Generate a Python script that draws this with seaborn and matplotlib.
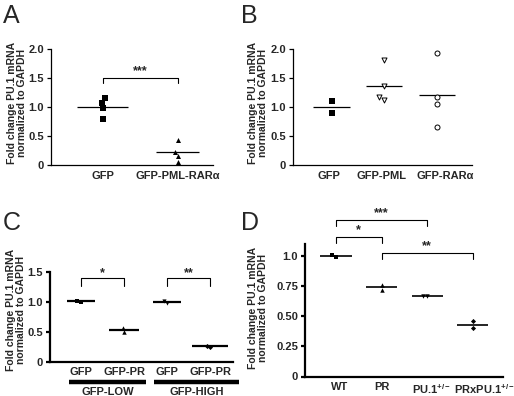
import numpy as np
import pandas as pd
import matplotlib
matplotlib.use("Agg")
import matplotlib.pyplot as plt
import matplotlib.transforms as mtransforms
import seaborn as sns

sns.set_style("white")
plt.rcParams['font.family'] = ['Liberation Sans', 'DejaVu Sans']
plt.rcParams['mathtext.fontset'] = 'custom'
plt.rcParams['mathtext.rm'] = 'Liberation Sans:bold'
plt.rcParams['mathtext.bf'] = 'Liberation Sans:bold'
plt.rcParams['mathtext.it'] = 'Liberation Sans:bold'

# ---------------- data ----------------
a_cats = ["GFP", "GFP-PML-RARα"]
a_gfp = [1.15, 1.07, 0.98, 0.79]
a_pr = [0.43, 0.23, 0.16, 0.06]

b_cats = ["GFP", "GFP-PML", "GFP-RARα"]
b_gfp = [1.10, 0.90]
b_pml = [1.81, 1.36, 1.18, 1.13]
b_rar = [1.93, 1.18, 1.05, 0.66]

c_cats = ["GFP ", "GFP-PR ", "GFP", "GFP-PR"]
c_ticklabels = ["GFP", "GFP-PR", "GFP", "GFP-PR"]
c_groups = ["GFP-LOW", "GFP-HIGH"]
c_low_gfp = [0.99, 1.02]
c_low_pr = [0.57, 0.50]
c_high_gfp = [0.98, 1.02]
c_high_pr = [0.24, 0.27]

d_cats = ["WT", "PR", "PU.1+/-", "PRxPU.1+/-"]
d_ticklabels = ["WT", "PR", r"PU.1$^{+/-}$", r"PRxPU.1$^{+/-}$"]
d_wt = [0.995, 1.01]
d_pr = [0.72, 0.765]
d_pu = [0.67, 0.67]
d_prpu = [0.40, 0.46]

ylab = "Fold change PU.1 mRNA\nnormalized to GAPDH"

fig = plt.figure(figsize=(5.14, 3.96), dpi=100)

axA = fig.add_axes([51 / 514, 1 - 165 / 396, 162 / 514, 115.7 / 396])
axB = fig.add_axes([293 / 514, 1 - 165 / 396, 179 / 514, 115.7 / 396])
axC = fig.add_axes([50 / 514, 1 - 361.7 / 396, 183 / 514, 90 / 396])
axD = fig.add_axes([305 / 514, 1 - 376.5 / 396, 198 / 514, 132.2 / 396])


def swarm(ax, cats, cat, vals, marker, size, open_=False):
    df = pd.DataFrame({"x": [cat] * len(vals), "y": vals})
    kw = dict(data=df, x="x", y="y", order=cats, ax=ax, marker=marker, size=size)
    if open_:
        kw.update(color="white", edgecolor="black", linewidth=0.7)
    else:
        kw.update(color="black", linewidth=0)
    sns.swarmplot(**kw)


def meanline(ax, pos, vals, half, lw):
    m = np.mean(vals)
    ax.hlines(m, pos - half, pos + half, color="black", lw=lw, zorder=1)


def bracket(ax, x0, x1, ytop, yleg, text, ystar, lw=0.8):
    ax.plot([x0, x0, x1, x1], [yleg, ytop, ytop, yleg], color="black", lw=lw, clip_on=False)
    ax.text((x0 + x1) / 2, ystar, text, ha="center", va="center", fontsize=9,
            fontweight="bold", clip_on=False)


def style(ax, lw):
    sns.despine(ax=ax)
    for s in ["left", "bottom"]:
        ax.spines[s].set_linewidth(lw)
        ax.spines[s].set_color("black")
    ax.set_xlabel("")
    ax.set_ylabel("")
    ax.tick_params(axis="x", length=0, pad=4)
    ax.tick_params(axis="y", length=3, width=lw, color="black", pad=2, left=True)


def shift_label(ax, idx, dx_px):
    lab = ax.get_xticklabels()[idx]
    lab.set_transform(lab.get_transform() +
                      mtransforms.ScaledTranslation(dx_px / 100, 0, fig.dpi_scale_trans))


# ---------------- A ----------------
swarm(axA, a_cats, a_cats[0], a_gfp, "s", 3.8)
swarm(axA, a_cats, a_cats[1], a_pr, "^", 3.6)
meanline(axA, 0, a_gfp, 0.34, 0.9)
meanline(axA, 1, a_pr, 0.29, 0.9)
axA.set_xlim(-0.69, 1.47)
axA.set_ylim(0, 2.0)
axA.set_yticks([0, 0.5, 1.0, 1.5, 2.0])
axA.set_yticklabels(["0", "0.5", "1.0", "1.5", "2.0"], fontsize=8, fontweight="bold")
axA.set_xticks([0, 1])
axA.set_xticklabels(a_cats, fontsize=8, fontweight="bold")
style(axA, 0.9)
bracket(axA, 0, 1, 1.51, 1.42, "***", 1.63)

# ---------------- B ----------------
swarm(axB, b_cats, b_cats[0], b_gfp, "s", 3.8)
swarm(axB, b_cats, b_cats[1], b_pml, "v", 3.6, open_=True)
swarm(axB, b_cats, b_cats[2], b_rar, "o", 3.6, open_=True)
meanline(axB, 0, b_gfp, 0.35, 0.9)
meanline(axB, 1, b_pml, 0.34, 0.9)
meanline(axB, 2, b_rar, 0.35, 0.9)
axB.set_xlim(-0.735, 2.665)
axB.set_ylim(0, 2.0)
axB.set_yticks([0, 0.5, 1.0, 1.5, 2.0])
axB.set_yticklabels(["0", "0.5", "1.0", "1.5", "2.0"], fontsize=8, fontweight="bold")
axB.set_xticks([0, 1, 2])
axB.set_xticklabels(b_cats, fontsize=8, fontweight="bold")
style(axB, 0.9)
shift_label(axB, 0, -3)
shift_label(axB, 1, -3)
shift_label(axB, 2, 8)

# ---------------- C ----------------
swarm(axC, c_cats, c_cats[0], c_low_gfp, "s", 3.0)
swarm(axC, c_cats, c_cats[1], c_low_pr, "^", 3.2)
swarm(axC, c_cats, c_cats[2], c_high_gfp, "v", 3.0)
swarm(axC, c_cats, c_cats[3], c_high_pr, "D", 2.6)
meanline(axC, 0, c_low_gfp, 0.33, 1.6)
meanline(axC, 1, c_low_pr, 0.34, 1.6)
meanline(axC, 2, c_high_gfp, 0.32, 1.6)
meanline(axC, 3, c_high_pr, 0.42, 1.6)
axC.set_xlim(-0.72, 3.53)
axC.set_ylim(0, 1.5)
axC.set_yticks([0, 0.5, 1.0, 1.5])
axC.set_yticklabels(["0", "0.5", "1.0", "1.5"], fontsize=8, fontweight="bold")
axC.set_xticks([0, 1, 2, 3])
axC.set_xticklabels(c_ticklabels, fontsize=8, fontweight="bold")
style(axC, 1.6)
axC.tick_params(axis="x", pad=4)
bracket(axC, 0, 1, 1.39, 1.27, "*", 1.47)
bracket(axC, 2, 3, 1.39, 1.27, "**", 1.47)
trC = axC.get_xaxis_transform()
for (x0, x1), g in zip([(-0.28, 1.51), (1.70, 3.67)], c_groups):
    axC.plot([x0, x1], [-0.231, -0.231], transform=trC, color="black", lw=3.2,
             clip_on=False, solid_capstyle="butt")
    axC.text((x0 + x1) / 2, -0.34, g, transform=trC, ha="center", va="center",
             fontsize=8, fontweight="bold")

# ---------------- D ----------------
swarm(axD, d_cats, d_cats[0], d_wt, "s", 3.0)
swarm(axD, d_cats, d_cats[1], d_pr, "^", 3.2)
swarm(axD, d_cats, d_cats[2], d_pu, "v", 3.2)
swarm(axD, d_cats, d_cats[3], d_prpu, "D", 2.6)
meanline(axD, 0, d_wt, 0.35, 1.2)
meanline(axD, 1, d_pr, 0.34, 1.2)
meanline(axD, 2, d_pu, 0.34, 1.2)
meanline(axD, 3, d_prpu, 0.34, 1.2)
axD.set_xlim(-0.68, 3.66)
axD.set_ylim(0, 1.1)
axD.set_yticks([0, 0.25, 0.5, 0.75, 1.0])
axD.set_yticklabels(["0", "0.25", "0.50", "0.75", "1.0"], fontsize=8, fontweight="bold")
axD.set_xticks([0, 1, 2, 3])
axD.set_xticklabels(d_ticklabels, fontsize=8, fontweight="bold")
style(axD, 1.6)
shift_label(axD, 0, 4)
shift_label(axD, 2, 4)
shift_label(axD, 3, 12)
bracket(axD, 0, 2, 1.306, 1.25, "***", 1.36)
bracket(axD, 0, 1, 1.16, 1.11, "*", 1.215)
bracket(axD, 1, 3, 1.03, 0.98, "**", 1.085)

# ---------------- labels ----------------
for (x, y) in [(0.033, 0.740), (0.502, 0.740), (0.031, 0.217), (0.502, 0.222)]:
    fig.text(x, y, ylab, rotation=90, ha="center", va="center", fontsize=7.5,
             fontweight="bold", multialignment="center", linespacing=1.1)

for (x, y), L in zip([(0.006, 0.99), (0.468, 0.99), (0.006, 0.466), (0.468, 0.466)],
                     ["A", "B", "C", "D"]):
    fig.text(x, y, L, ha="left", va="top", fontsize=18)

fig.savefig("out.png", dpi=100, facecolor="white")
